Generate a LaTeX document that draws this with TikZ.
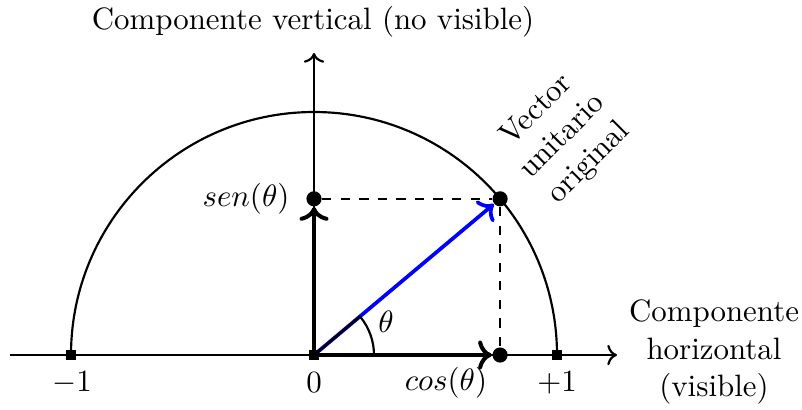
\documentclass[tikz,border=0pt]{standalone}
\usetikzlibrary{arrows.meta}
\begin{document}
\begin{tikzpicture}[x=0.3236pt,y=0.3236pt,
  thinline/.style={line width=0.7pt},
  comp/.style={line width=1.3pt,->},
  dot/.style={circle,fill=black,inner sep=0pt,minimum size=4.9pt},
  tick/.style={rectangle,fill=black,inner sep=0pt,minimum size=3.4pt},
  lbl/.style={inner sep=0pt}]
\useasboundingbox (-314,-54) rectangle (488,355);
% points
\node[tick] (O) at (0,0) {};
\node[tick] (m1) at (-243,0) {};
\node[tick] (p1) at (243,0) {};
\coordinate (xl) at (-304,0);
\coordinate (xr) at (303,0);
\coordinate (yt) at (0,302);
\coordinate (ac) at (40:60);
% axes and circle
\draw[thinline] (243,0) arc (0:180:243);
\draw[thinline,->] (xl) -- (xr);
\draw[thinline,->] (O.center) -- (yt);
\node[dot] (S) at (0,156.2) {};
\node[dot] (P) at (186.1,156.2) {};
\node[dot] (C) at (186.1,0) {};
% dashed projections
\draw[thinline,dashed] (S) -- (P);
\draw[thinline,dashed] (P) -- (C);
% components
\draw[comp] (O.center) -- (S);
\draw[comp] (O.center) -- (C);
\draw[line width=1.2pt,->,blue] (O.center) -- (P);
\draw[line width=0.8pt] (O.center) -- (ac);
\draw[thinline] (60,0) arc (0:40:60);
\node[tick] at (O) {};
% labels
\node[lbl] (th) at (72,33) {$\theta$};
\node[lbl,anchor=east] (sl) at (-24,156.2) {$sen(\theta)$};
\node[lbl] (cl) at (132,-28) {$cos(\theta)$};
\node[lbl] (l1) at (-242,-28) {$-1$};
\node[lbl] (l0) at (0,-28) {$0$};
\node[lbl] (l2) at (243,-28) {$+1$};
\node[lbl] (vt) at (-1,333) {Componente vertical (no visible)};
\node[lbl,align=center] (ht) at (400,3) {Componente\\horizontal\\(visible)};
\node[lbl,align=center,rotate=45] (vu) at (249,218) {Vector\\unitario\\original};
\end{tikzpicture}
\end{document}
